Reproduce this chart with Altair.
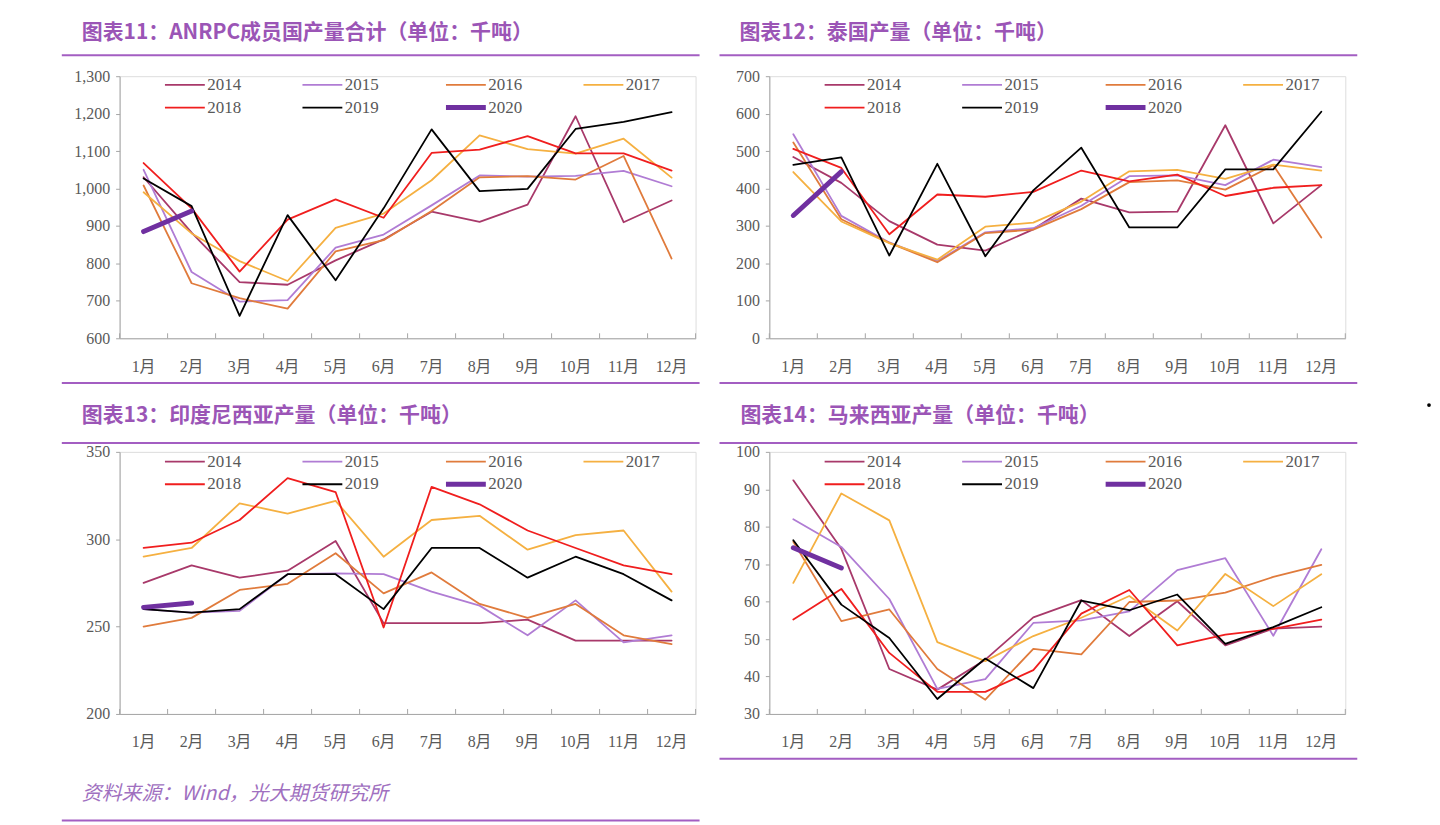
import altair as alt
import pandas as pd

months = ["1月", "2月", "3月", "4月", "5月", "6月", "7月", "8月", "9月", "10月", "11月", "12月"]
years = ["2014", "2015", "2016", "2017", "2018", "2019", "2020"]
year_colors = ["#A8396A", "#B07CD4", "#E07B3C", "#F5B041", "#F01E1E", "#000000", "#7030A0"]

# 图表11 ANRPC
anrpc_2014 = [1030, 882, 750, 743, 808, 864, 938, 911, 957, 1193, 910, 968]
anrpc_2015 = [1050, 777, 698, 702, 842, 877, 955, 1035, 1032, 1034, 1047, 1006]
anrpc_2016 = [1008, 747, 707, 679, 832, 862, 940, 1030, 1033, 1024, 1087, 813]
anrpc_2017 = [990, 880, 806, 753, 895, 933, 1022, 1142, 1105, 1093, 1133, 1029]
anrpc_2018 = [1068, 947, 778, 917, 971, 922, 1095, 1104, 1140, 1094, 1094, 1048]
anrpc_2019 = [1027, 953, 660, 929, 755, 947, 1158, 993, 999, 1159, 1178, 1204]
anrpc_2020 = [885, 940]
anrpc_ticks = [600, 700, 800, 900, 1000, 1100, 1200, 1300]

# 图表12 泰国
th_2014 = [484, 415, 313, 250, 234, 291, 373, 336, 338, 569, 307, 409]
th_2015 = [545, 327, 256, 206, 283, 294, 354, 433, 435, 409, 477, 457]
th_2016 = [523, 318, 255, 203, 281, 290, 345, 417, 422, 397, 462, 269]
th_2017 = [444, 312, 254, 210, 298, 309, 365, 446, 450, 426, 464, 448]
th_2018 = [506, 455, 278, 384, 378, 391, 448, 419, 437, 380, 402, 409]
th_2019 = [463, 483, 221, 466, 219, 395, 509, 296, 296, 451, 451, 605]
th_2020 = [328, 445]
th_ticks = [0, 100, 200, 300, 400, 500, 600, 700]

# 图表13 印度尼西亚
id_2014 = [275, 285, 278, 282, 299, 252, 252, 252, 254, 242, 242, 242]
id_2015 = [260, 258, 259, 280, 280.5, 280, 270, 262, 245, 265, 241, 245]
id_2016 = [250, 255, 271, 274.5, 292, 269, 281, 263, 255, 263, 245, 240]
id_2017 = [290, 295, 320.5, 314.7, 322, 290, 311, 313.4, 294, 302.4, 305, 270]
id_2018 = [295, 298, 311, 335, 327, 249.5, 330, 320, 305, 295, 285, 280]
id_2019 = [260, 258, 260, 280, 280, 260, 295, 295, 278, 290, 280, 265]
id_2020 = [261, 263.5]
id_ticks = [200, 250, 300, 350]

# 图表14 马来西亚
my_2014 = [92.4, 74.1, 42, 36.5, 44.5, 55.8, 60.4, 50.8, 60.1, 48.3, 52.8, 53.3]
my_2015 = [82, 74.6, 60.7, 36.7, 39.3, 54.3, 55, 57.4, 68.4, 71.6, 50.9, 74]
my_2016 = [76, 54.8, 57.9, 42, 33.8, 47.4, 45.9, 59.9, 60.3, 62.4, 66.6, 69.8]
my_2017 = [65, 88.9, 81.7, 49.2, 44.1, 50.8, 55.7, 61.5, 52.3, 67.4, 58.8, 67.3]
my_2018 = [55.2, 63.4, 46.3, 35.9, 35.9, 41.7, 56.8, 63.1, 48.3, 51.2, 52.7, 55.2]
my_2019 = [76.4, 59.2, 50.3, 34, 44.8, 36.9, 60.3, 57.7, 61.9, 48.7, 53.2, 58.5]
my_2020 = [74.4, 69]
my_ticks = [30, 40, 50, 60, 70, 80, 90, 100]

titles = [
    "图表11：ANRPC成员国产量合计（单位：千吨）",
    "图表12：泰国产量（单位：千吨）",
    "图表13：印度尼西亚产量（单位：千吨）",
    "图表14：马来西亚产量（单位：千吨）",
]
source_text = "资料来源：Wind，光大期货研究所"

W, H = 578, 263
PURPLE = "#A35EC2"
TITLE_PURPLE = "#9B55B6"
AXIS_GRAY = "#A6A6A6"
LABEL_GRAY = "#595959"
SERIF = "Liberation Serif, Noto Sans CJK SC"
CJK = "Noto Sans CJK SC"


def long_df(series):
    rows = []
    for y, vals in zip(years, series):
        for m, v in zip(months, vals):
            rows.append({"month": m, "year": y, "value": v})
    return pd.DataFrame(rows)


X_AXIS = alt.Axis(title=None, labelAngle=0, ticks=False, labelPadding=20, labelFont=SERIF,
                  labelFontSize=16, labelColor=LABEL_GRAY, domainColor=AXIS_GRAY, domainWidth=1,
                  grid=False)


def xenc(bp):
    return alt.X("month:N", sort=months,
                 scale=alt.Scale(type="band", domain=months, paddingInner=0, paddingOuter=0),
                 bandPosition=bp, axis=X_AXIS)


def panel(series, ticks, fmt, title, title_dx, title_offset, legend_x, legend_y,
          top_rule, bottom_rule, rule_x, source=None, dot=None):
    df = long_df(series)
    leg = alt.Legend(orient="none", legendX=legend_x, legendY=legend_y, direction="horizontal",
                     columns=4, symbolType="stroke", symbolSize=1600, labelFont=SERIF,
                     labelFontSize=17, labelColor=LABEL_GRAY, columnPadding=57, rowPadding=4,
                     title=None, padding=0, labelOffset=14,
                     symbolStrokeWidth=alt.ExprRef("datum.value === '2020' ? 5 : 1.8"))
    lines = alt.Chart(df).mark_line(strokeCap="round", strokeJoin="round").encode(
        x=xenc(0.5),
        y=alt.Y("value:Q", scale=alt.Scale(domain=[ticks[0], ticks[-1]], nice=False, zero=False),
                axis=alt.Axis(title=None, values=ticks, format=fmt, grid=False, labelFont=SERIF,
                              labelFontSize=16, labelColor=LABEL_GRAY, domainColor=AXIS_GRAY,
                              tickColor=AXIS_GRAY, tickSize=4, labelPadding=6)),
        color=alt.Color("year:N", scale=alt.Scale(domain=years, range=year_colors), legend=leg),
        strokeWidth=alt.condition(alt.datum.year == "2020", alt.value(5), alt.value(1.8)),
    )
    tick_df = pd.DataFrame({"month": months})
    tick_start = alt.Chart(tick_df).mark_rule(color=AXIS_GRAY).encode(
        x=xenc(0), y=alt.value(H - 5), y2=alt.value(H))
    tick_end = alt.Chart(pd.DataFrame({"month": [months[-1]]})).mark_rule(color=AXIS_GRAY).encode(
        x=xenc(1), y=alt.value(H - 5), y2=alt.value(H))
    one = pd.DataFrame({"k": [0]})
    layers = [lines, tick_start, tick_end]
    layers.append(alt.Chart(one).mark_rule(color=PURPLE, strokeWidth=2).encode(
        x=alt.value(rule_x[0]), x2=alt.value(rule_x[1]), y=alt.value(top_rule)))
    layers.append(alt.Chart(one).mark_rule(color=PURPLE, strokeWidth=2).encode(
        x=alt.value(rule_x[0]), x2=alt.value(rule_x[1]), y=alt.value(bottom_rule)))
    if source is not None:
        layers.append(alt.Chart(one).mark_text(align="left", baseline="middle", font=CJK,
                                               fontSize=20, fontStyle="italic", color="#A070C0").encode(
            x=alt.value(source[0]), y=alt.value(source[1]), text=alt.value(source_text)))
    if dot is not None:
        layers.append(alt.Chart(one).mark_circle(color="#000000", opacity=1, size=14).encode(
            x=alt.value(dot[0]), y=alt.value(dot[1])))
    return alt.layer(*layers).properties(
        width=W, height=H,
        title=alt.TitleParams(title, anchor="start", frame="group", dx=title_dx, offset=title_offset,
                              font=CJK, fontSize=21, fontWeight="bold", color=TITLE_PURPLE),
    )


p1 = panel([anrpc_2014, anrpc_2015, anrpc_2016, anrpc_2017, anrpc_2018, anrpc_2019, anrpc_2020],
           anrpc_ticks, ",.0f", titles[0], -38, 11, 57, 0, -21, 308, (-58, 582))
p2 = panel([th_2014, th_2015, th_2016, th_2017, th_2018, th_2019, th_2020],
           th_ticks, "d", titles[1], -30, 11, 67, 0, -21, 308, (-50, 590), dot=(662, 330))
p3 = panel([id_2014, id_2015, id_2016, id_2017, id_2018, id_2019, id_2020],
           id_ticks, "d", titles[2], -38, 16, 57, 1, -9, 370, (-58, 582), source=(-38, 343))
p4 = panel([my_2014, my_2015, my_2016, my_2017, my_2018, my_2019, my_2020],
           my_ticks, "d", titles[3], -29, 16, 67, 1, -9, 308, (-50, 590))

chart = alt.concat(p1, p2, p3, p4, columns=2, spacing={"row": 114, "column": 74},
                   bounds="flush").resolve_scale(color="independent").resolve_legend(
    color="independent").properties(
    padding={"left": 52, "top": 12, "right": 0, "bottom": 0}
).configure_view(stroke=None).configure(background="white")

chart.save("out.html", embed_options={"renderer": "svg", "actions": False})
